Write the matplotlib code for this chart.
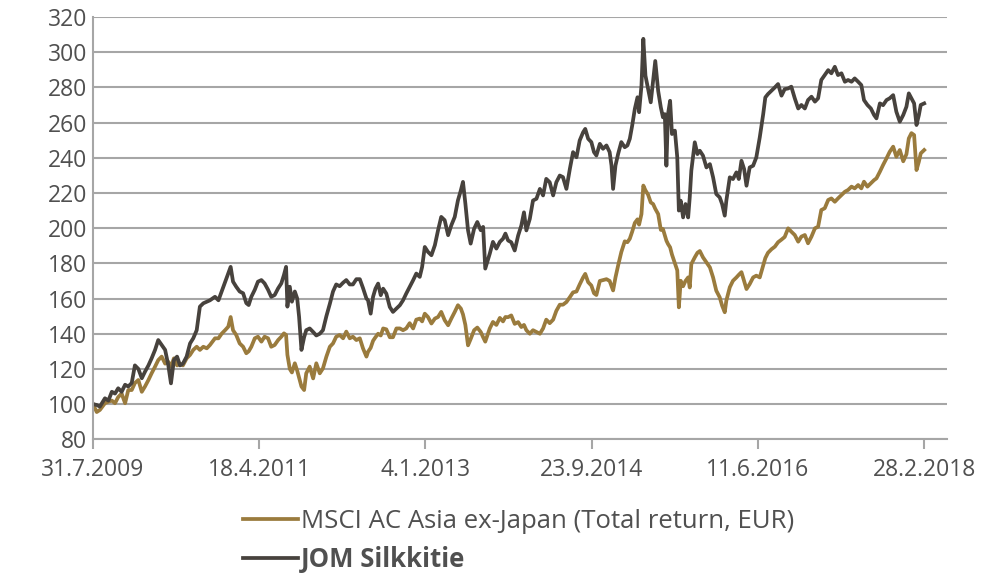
import matplotlib
matplotlib.use("Agg")
import matplotlib.pyplot as plt
import pandas as pd

plt.rcParams['font.family'] = ['Open Sans', 'DejaVu Sans']

# x positions: days since 31.7.2009
days = [0, 14, 26, 45, 58, 71, 83, 95, 108, 121, 133, 146, 158, 171, 184, 196, 209, 221, 234, 246,
        259, 272, 284, 294, 305, 317, 328, 339, 353, 366, 378, 391, 403, 416, 429, 441, 460, 473, 485, 498,
        510, 519, 528, 540, 553, 566, 578, 587, 597, 610, 622, 635, 647, 660, 672, 685, 698, 710, 720, 728,
        733, 742, 750, 761, 770, 777, 786, 796, 804, 817, 830, 842, 855, 867, 880, 893, 905, 917, 930, 943,
        955, 968, 980, 993, 1006, 1018, 1031, 1037, 1047, 1056, 1065, 1075, 1085, 1094, 1106, 1119, 1131, 1144, 1157, 1169,
        1181, 1194, 1207, 1219, 1232, 1241, 1251, 1263, 1276, 1289, 1301, 1313, 1326, 1339, 1351, 1364, 1376, 1387, 1395, 1404,
        1414, 1424, 1437, 1449, 1462, 1471, 1479, 1496, 1508, 1521, 1534, 1546, 1555, 1565, 1577, 1590, 1603, 1615, 1625, 1634,
        1647, 1659, 1672, 1685, 1697, 1709, 1722, 1735, 1747, 1760, 1772, 1785, 1798, 1810, 1823, 1835, 1848, 1856, 1867, 1879,
        1889, 1898, 1911, 1923, 1936, 1948, 1955, 1961, 1970, 1980, 1992, 2005, 2015, 2024, 2033, 2043, 2053, 2059, 2068, 2075,
        2083, 2093, 2103, 2112, 2120, 2131, 2141, 2149, 2156, 2162, 2168, 2176, 2183, 2194, 2203, 2209, 2216, 2225, 2234, 2244,
        2250, 2256, 2269, 2279, 2288, 2300, 2313, 2326, 2338, 2350, 2363, 2372, 2382, 2388, 2401, 2413, 2426, 2435, 2445, 2455,
        2464, 2476, 2489, 2501, 2514, 2527, 2535, 2545, 2558, 2571, 2583, 2596, 2608, 2621, 2633, 2646, 2659, 2671, 2684, 2696,
        2709, 2722, 2734, 2746, 2759, 2772, 2784, 2797, 2809, 2822, 2835, 2847, 2860, 2872, 2885, 2897, 2907, 2920, 2933, 2945,
        2954, 2967, 2979, 2992, 3004, 3017, 3029, 3042, 3055, 3067, 3076, 3086, 3096, 3105, 3114, 3121, 3134]

jom = [100, 99.5, 98.6, 103.3, 102, 107, 106, 109, 107, 111, 110, 112, 122, 120, 114.7, 118.4, 122, 126, 130.8, 136.4,
       133.6, 130.8, 122, 111.8, 125, 127, 122, 123, 127, 134.5, 137.4, 142, 155.4, 157.3, 158.2, 159, 161, 159, 164, 169.6,
       174.3, 178, 169.6, 166.7, 164, 163, 157.4, 156.3, 161, 165, 169.6, 170.5, 168.6, 165, 161, 162, 165.8, 168.6, 173.4, 178,
       155.4, 166.7, 158.2, 164, 160, 149.7, 130.8, 138, 142, 143, 141, 139, 140, 142, 150, 157, 164, 168, 167, 169,
       170.5, 168, 168, 171, 171, 166, 160, 159, 151.4, 161, 165.6, 168.5, 161.9, 165.6, 162.8, 155.2, 152.4, 154.3, 156.2, 159,
       162.8, 166.6, 170.4, 174.2, 172.3, 178, 189.3, 186.5, 184.6, 190.3, 198.8, 206.4, 204.5, 196, 201.6, 206.4, 215.8, 221.5, 226.3, 214,
       198.8, 191.2, 199.7, 203.5, 198.8, 200.7, 177, 185.5, 192.2, 188.4, 192.2, 194, 196.9, 193, 192, 187.3, 195.8, 201.5, 209, 198.7,
       205.3, 215.7, 216.7, 222.3, 218.6, 228, 226.1, 218.6, 226.1, 229.9, 229, 222.3, 233.7, 243.2, 240.3, 249.8, 254.5, 256.4, 250.8, 248.9,
       243.2, 241.3, 247.9, 245.1, 247, 243.2, 235.6, 222.3, 235.6, 242.2, 248.9, 246, 247, 250.8, 258.3, 267.8, 274.4, 265.9, 281, 307.6,
       286.7, 279, 271.5, 283.8, 295, 278, 268.6, 263, 264.8, 235.5, 264.8, 272.4, 253.5, 255.4, 240.2, 210, 215.6, 206.1, 213.7, 206.1,
       217.5, 232.7, 248.8, 242.1, 244, 241.2, 234.5, 236.4, 228.9, 219.4, 217.5, 213.7, 207.1, 215.6, 228.9, 227.9, 231.7, 227.9, 238.3, 233.6,
       224.1, 234.5, 235.5, 240.2, 251.6, 264.8, 274.3, 276.2, 278.1, 280, 281.9, 275.3, 279, 279.4, 280.4, 273.8, 268, 270, 268, 272.8,
       274.7, 271.9, 273.8, 284.2, 287, 289.8, 288, 291.7, 287, 288, 283.2, 284.2, 283.2, 285.1, 283.2, 281.3, 272.8, 270, 268, 264.3,
       262.4, 270.9, 269.9, 272.8, 273.8, 275.6, 266.2, 260.5, 264.3, 269, 276.6, 273.8, 270.9, 258.6, 264.3, 270, 270.9]

msci = [100, 95.5, 96.7, 100.5, 101.4, 102, 100.5, 104, 106, 100.5, 108, 108, 112, 113.7, 107, 110, 113.7, 117.5, 121.3, 125,
        127, 123, 124, 121.3, 126, 122, 123, 122, 126, 128, 130.8, 132.6, 130.8, 132.6, 131.7, 133.6, 137.4, 137.4, 140, 142,
        144, 149.5, 142, 139.3, 134.5, 132.6, 128.9, 130, 132.6, 137.4, 138.3, 135.5, 138.3, 137.4, 132.6, 133.6, 136.4, 138.3, 140.2, 139.3,
        128, 120, 118, 123.2, 119, 115, 110, 108, 117.5, 121.3, 114.6, 123.2, 117.5, 120.3, 127, 132.6, 134.5, 138.3, 139.3, 137.4,
        141.2, 137.4, 138.3, 136.4, 137.4, 131.7, 127, 129.7, 132, 136, 138, 140, 139, 143, 142.5, 138, 138, 143, 143, 142,
        143, 146, 143, 148, 148.6, 147, 151.4, 149.5, 145.8, 148.6, 149.5, 152.4, 147.7, 144.8, 148.6, 152.4, 156.2, 154.3, 151, 145,
        133.4, 137, 142, 143.5, 141, 138, 135.5, 143, 146.7, 145, 149, 147, 149.5, 149.4, 150.4, 145.6, 146.6, 143.8, 145, 142,
        140, 142, 141, 140, 143, 148, 146, 148, 153, 156.5, 156.5, 158, 160.8, 163.5, 164, 168, 172, 174, 169.3, 167.4,
        163, 162, 170, 170.5, 171, 170, 167, 164.6, 172, 178.8, 186.4, 192.5, 192, 194, 198, 203, 205, 202, 208, 224.2,
        221.5, 219, 214.6, 213.7, 211, 208, 199, 199.5, 196, 192.9, 191, 189.1, 185, 180, 176, 155, 170.1, 167, 170, 172,
        166.3, 179.6, 183.4, 186, 187, 183.4, 180.6, 177.7, 172, 164.5, 160.7, 156, 152.2, 158.8, 166.4, 170.1, 172, 173.5, 175, 170,
        165.4, 168.2, 172, 173, 172, 178.7, 183, 186, 188, 189.5, 192, 193.5, 195, 199.9, 198, 196.1, 192.3, 195.2, 196.1, 191.4,
        195.2, 199.9, 200.8, 210.3, 211.3, 216, 216.9, 215, 216.9, 218.8, 220.7, 221.7, 223.6, 222.6, 224.5, 222.6, 226.4, 223.6, 225.5, 227.3,
        228.3, 232.1, 235.9, 239.7, 243.4, 246.3, 240.6, 244.4, 238, 242, 251, 254, 252.9, 233, 237.8, 242.5, 244.4]

tick_dates = ['2009-07-31', '2011-04-18', '2013-01-04', '2014-09-23', '2016-06-11', '2018-02-28']
tick_labels = ['31.7.2009', '18.4.2011', '4.1.2013', '23.9.2014', '11.6.2016', '28.2.2018']
y_ticks = [80, 100, 120, 140, 160, 180, 200, 220, 240, 260, 280, 300, 320]
series_labels = ['MSCI AC Asia ex-Japan (Total return, EUR)', 'JOM Silkkitie']

start = pd.Timestamp('2009-07-31')
dates = start + pd.to_timedelta(days, unit='D')

GOLD = '#9a7b3d'
DARK = '#47423d'
GRID = '#a6a6a6'
TXT = '#505050'
FS = 16.5
LFS = 18.5

fig = plt.figure(figsize=(9.98, 5.74), dpi=100)
ax = fig.add_axes([93 / 998, 1 - 439.3 / 574, (947 - 93) / 998, (439.3 - 17) / 574])

ax.plot(dates, msci, color=GOLD, lw=2.7, label=series_labels[0], solid_joinstyle='round')
ax.plot(dates, jom, color=DARK, lw=2.7, label=series_labels[1], solid_joinstyle='round')

ax.set_ylim(80, 320)
ax.set_yticks(y_ticks)
ax.set_xlim(start, start + pd.Timedelta(days=3220))
ax.set_xticks(pd.to_datetime(tick_dates))
ax.set_xticklabels(tick_labels)

ax.yaxis.grid(True, color=GRID, lw=1.5)
ax.set_axisbelow(True)
for s in ['top', 'right']:
    ax.spines[s].set_visible(False)
for s in ['left', 'bottom']:
    ax.spines[s].set_color(GRID)
    ax.spines[s].set_linewidth(1.5)

ax.tick_params(axis='y', length=0, pad=4, labelsize=FS, labelcolor=TXT)
ax.tick_params(axis='x', length=7, width=1.5, color=GRID, direction='out', pad=6.5, labelsize=FS, labelcolor=TXT)

leg = fig.legend(loc='upper left', bbox_to_anchor=(243 / 998, 1 - 509 / 574), frameon=False,
                 borderpad=0, borderaxespad=0, handlelength=2.15, handletextpad=0.1, labelspacing=0.47,
                 fontsize=LFS, labelcolor=TXT)
leg.get_texts()[1].set_fontweight('bold')
for h in leg.get_lines():
    h.set_linewidth(2.7)

fig.savefig('out.png', dpi=100)
